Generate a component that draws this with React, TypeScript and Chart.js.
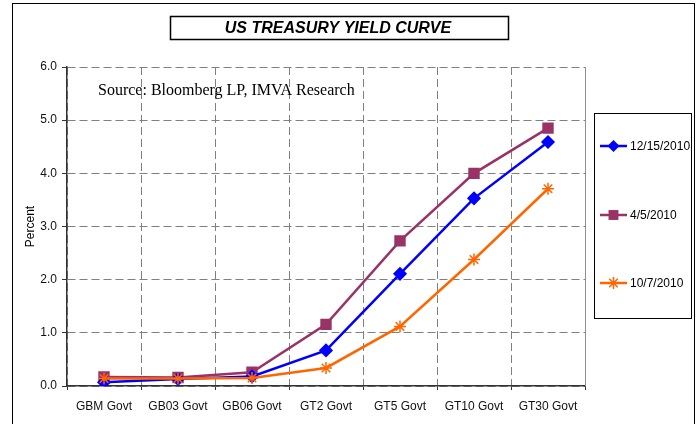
import React, { useEffect, useRef } from "react";
import { Chart, registerables } from "chart.js";

Chart.register(...registerables);

const TITLE = "US TREASURY YIELD CURVE";
const SOURCE = "Source: Bloomberg LP, IMVA Research";
const Y_TITLE = "Percent";
const CATEGORIES = ["GBM Govt", "GB03 Govt", "GB06 Govt", "GT2 Govt", "GT5 Govt", "GT10 Govt", "GT30 Govt"];
const SERIES_NAMES = ["12/15/2010", "4/5/2010", "10/7/2010"];
const S_DEC15 = [0.07, 0.13, 0.18, 0.67, 2.11, 3.53, 4.59];
const S_APR5 = [0.17, 0.16, 0.26, 1.16, 2.73, 4.0, 4.85];
const S_OCT7 = [0.14, 0.14, 0.15, 0.34, 1.12, 2.38, 3.71];
const COLORS = ["#0000FF", "#993366", "#FF6600"];
const POINT_STYLES = ["rectRot", "rect", "star"];
const POINT_RADII = [6, 7, 6];
const Y_MIN = 0;
const Y_MAX = 6;
const Y_STEP = 1;

const FONT = "'Liberation Sans', Arial, sans-serif";

export default function App() {
  const ref = useRef<HTMLCanvasElement | null>(null);

  useEffect(() => {
    const canvas = ref.current;
    if (!canvas) return;
    const seriesData = [S_DEC15, S_APR5, S_OCT7];
    const orders = [1, 2, 0];

    function drawMarker(ctx: CanvasRenderingContext2D, style: string, r: number, x: number, y: number) {
      ctx.beginPath();
      if (style === "rect") {
        const s = Math.SQRT1_2 * r;
        ctx.rect(x - s, y - s, 2 * s, 2 * s);
        ctx.fill();
      } else if (style === "rectRot") {
        ctx.moveTo(x, y - r);
        ctx.lineTo(x + r, y);
        ctx.lineTo(x, y + r);
        ctx.lineTo(x - r, y);
        ctx.closePath();
        ctx.fill();
      } else {
        for (let k = 0; k < 4; k++) {
          const a = (k * Math.PI) / 4;
          ctx.moveTo(x - Math.cos(a) * r, y - Math.sin(a) * r);
          ctx.lineTo(x + Math.cos(a) * r, y + Math.sin(a) * r);
        }
        ctx.stroke();
      }
    }

    const decor = {
      id: "decor",
      afterDraw(chart: any) {
        const ctx = chart.ctx as CanvasRenderingContext2D;
        const area = chart.chartArea;
        ctx.save();
        // outer frame
        ctx.strokeStyle = "#000";
        ctx.lineWidth = 1;
        ctx.strokeRect(12.5, 3.5, 682, 440);
        // plot right edge
        ctx.strokeStyle = "#909090";
        ctx.beginPath();
        ctx.moveTo(Math.round(area.right) + 0.5, area.top);
        ctx.lineTo(Math.round(area.right) + 0.5, area.bottom);
        ctx.stroke();
        // title box
        ctx.strokeStyle = "#000";
        ctx.lineWidth = 1.5;
        ctx.strokeRect(170.5, 16.5, 338, 23);
        ctx.fillStyle = "#000";
        ctx.font = `italic bold 16px ${FONT}`;
        ctx.textAlign = "center";
        ctx.textBaseline = "middle";
        ctx.fillText(TITLE, 338, 29);
        // source text
        ctx.font = `16px 'Liberation Serif', 'Times New Roman', serif`;
        ctx.textAlign = "left";
        ctx.textBaseline = "alphabetic";
        ctx.fillText(SOURCE, 98, 95);
        // y title
        ctx.save();
        ctx.translate(31, (area.top + area.bottom) / 2);
        ctx.rotate(-Math.PI / 2);
        ctx.font = `12px ${FONT}`;
        ctx.textAlign = "center";
        ctx.textBaseline = "middle";
        ctx.fillText(Y_TITLE, 0, 0);
        ctx.restore();
        // legend box
        ctx.strokeStyle = "#000";
        ctx.lineWidth = 1;
        ctx.strokeRect(594.5, 113.5, 97, 205);
        const ys = [146, 215, 283];
        SERIES_NAMES.forEach((name, i) => {
          const y = ys[i];
          ctx.strokeStyle = COLORS[i];
          ctx.lineWidth = 2.5;
          ctx.beginPath();
          ctx.moveTo(600, y);
          ctx.lineTo(627, y);
          ctx.stroke();
          ctx.fillStyle = COLORS[i];
          ctx.strokeStyle = COLORS[i];
          ctx.lineWidth = 1.5;
          drawMarker(ctx, POINT_STYLES[i], POINT_RADII[i], 613.5, y);
          ctx.fillStyle = "#000";
          ctx.font = `12px ${FONT}`;
          ctx.textAlign = "left";
          ctx.textBaseline = "middle";
          ctx.fillText(name, 630, y + 1);
        });
        ctx.restore();
      },
    };

    const chart = new Chart(canvas, {
      type: "line",
      data: {
        labels: CATEGORIES,
        datasets: SERIES_NAMES.map((name, i) => ({
          label: name,
          data: seriesData[i],
          borderColor: COLORS[i],
          backgroundColor: COLORS[i],
          pointBackgroundColor: COLORS[i],
          pointBorderColor: COLORS[i],
          pointStyle: POINT_STYLES[i] as any,
          pointRadius: POINT_RADII[i],
          pointBorderWidth: 1.5,
          borderWidth: 2.5,
          tension: 0,
          fill: false,
          order: orders[i],
        })),
      },
      options: {
        responsive: false,
        animation: false,
        maintainAspectRatio: false,
        layout: { padding: { left: 0, top: 67, right: 114, bottom: 0 } },
        plugins: {
          legend: { display: false },
          title: { display: false },
          tooltip: { enabled: false },
        },
        scales: {
          x: {
            type: "category",
            offset: true,
            grid: {
              offset: true,
              color: "#808080",
              lineWidth: 1,
              tickColor: "#333",
              tickLength: 4,
              drawTicks: true,
            },
            border: { display: true, color: "#333", width: 1.5, dash: [8, 4] },
            ticks: {
              color: "#111",
              font: { family: FONT, size: 12 },
              padding: 9,
              maxRotation: 0,
              autoSkip: false,
            },
            afterFit: (s: any) => {
              s.height = 38;
            },
          },
          y: {
            min: Y_MIN,
            max: Y_MAX,
            ticks: {
              stepSize: Y_STEP,
              color: "#111",
              font: { family: FONT, size: 12 },
              padding: 5,
              callback: (v: any) => Number(v).toFixed(1),
            },
            grid: {
              color: "#808080",
              lineWidth: 1,
              tickColor: "#333",
              tickLength: 5,
            },
            border: { display: true, color: "#333", width: 1.5, dash: [8, 4] },
            afterFit: (s: any) => {
              s.width = 67;
            },
          },
        },
      },
      plugins: [decor],
    });
    return () => chart.destroy();
  }, []);

  return (
    <div style={{ position: "fixed", left: 0, top: 0, width: 699, height: 424, background: "#fff" }}>
      <canvas ref={ref} width={699} height={424} style={{ display: "block", width: 699, height: 424 }} />
    </div>
  );
}
